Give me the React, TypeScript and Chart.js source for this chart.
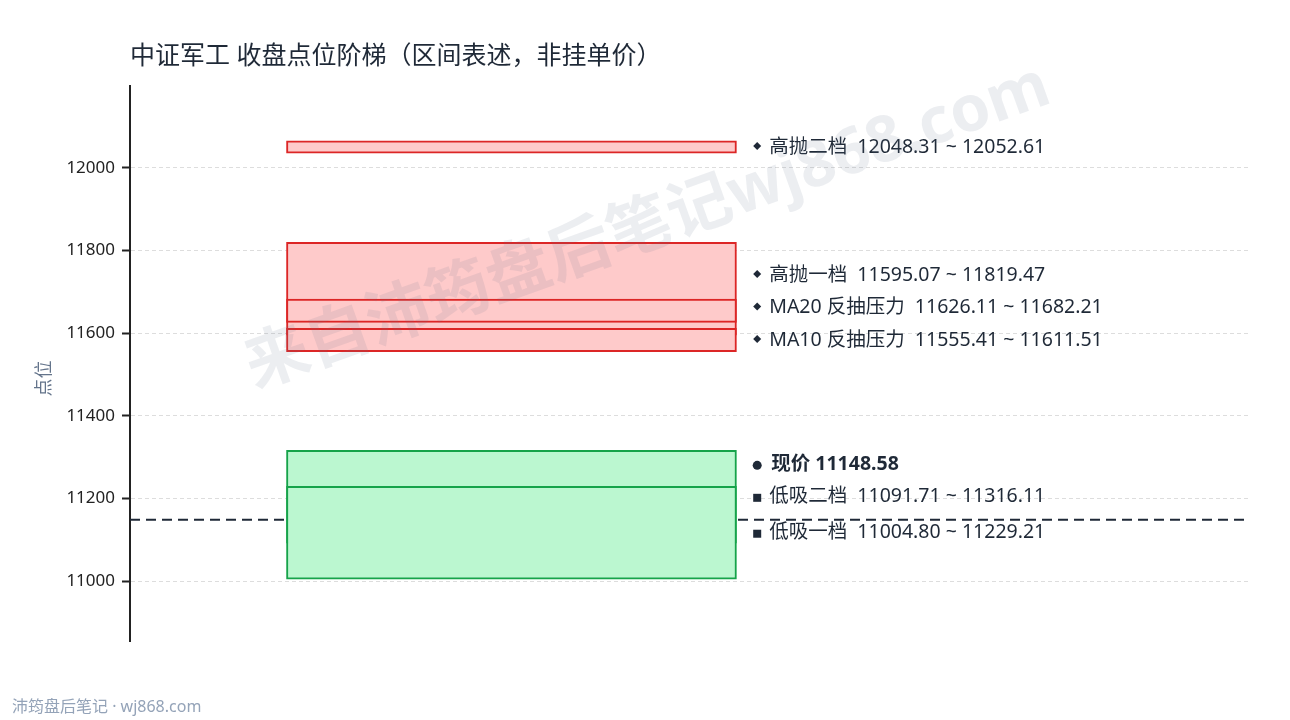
import { useEffect, useRef } from "react";
import { Chart, registerables } from "chart.js";

Chart.register(...registerables);

// 区间（收盘点位）
const bandNames = ["高抛二档", "高抛一档", "MA20 反抽压力", "MA10 反抽压力", "低吸二档", "低吸一档"];
const bandLow = [12048.31, 11595.07, 11626.11, 11555.41, 11091.71, 11004.8];
const bandHigh = [12052.61, 11819.47, 11682.21, 11611.51, 11316.11, 11229.21];
const bandKind = ["sell", "sell", "sell", "sell", "buy", "buy"];
const currentPrice = 11148.58;
const yTicks = [11000, 11200, 11400, 11600, 11800, 12000];

const TITLE = "中证军工 收盘点位阶梯（区间表述，非挂单价）";
const FOOTER = "沛筠盘后笔记 · wj868.com";
const WATERMARK = "来自沛筠盘后笔记wj868.com";
const FONT = '"Noto Sans", "Noto Sans CJK SC", sans-serif';

const MIN_SPAN = 30; // 太窄的区间放大显示
const BOX_CENTER = 0.3406;
const LABEL_X = 0.56;
const LABEL_GAP = 32.5;

const fillOf = (k: string) => (k === "sell" ? "#fecaca" : "#bbf7d0");
const edgeOf = (k: string) => (k === "sell" ? "#dc2626" : "#16a34a");

const fmt = (v: number) => v.toFixed(2);

const overlayPlugin = {
  id: "overlay",
  afterDatasetsDraw(chart: any) {
    const { ctx, chartArea, scales } = chart;
    const x = scales.x;
    const y = scales.y;
    ctx.save();

    // 右侧标签，自下而上错开
    const items = bandNames.map((name, i) => ({
      kind: bandKind[i],
      text: `${name}  ${fmt(bandLow[i])} ~ ${fmt(bandHigh[i])}`,
      y: y.getPixelForValue((bandLow[i] + bandHigh[i]) / 2),
    }));
    const sorted = [...items].sort((a, b) => b.y - a.y);
    for (let i = 1; i < sorted.length; i++) {
      sorted[i].y = Math.min(sorted[i].y, sorted[i - 1].y - LABEL_GAP);
    }
    let curY = y.getPixelForValue(currentPrice);
    for (const it of sorted) {
      if (Math.abs(curY - it.y) < LABEL_GAP) curY = it.y - LABEL_GAP;
    }

    const lx = x.getPixelForValue(LABEL_X);
    ctx.textBaseline = "middle";
    ctx.textAlign = "left";
    ctx.fillStyle = "#1f2937";
    ctx.font = `19.5px ${FONT}`;
    for (const it of items) {
      if (it.kind === "sell") {
        ctx.beginPath();
        ctx.moveTo(lx, it.y - 5);
        ctx.lineTo(lx + 4, it.y - 1);
        ctx.lineTo(lx, it.y + 3);
        ctx.lineTo(lx - 4, it.y - 1);
        ctx.closePath();
        ctx.fill();
      } else {
        ctx.fillRect(lx - 4, it.y - 3, 8, 8);
      }
      ctx.fillText(it.text, lx + 12, it.y);
    }
    ctx.beginPath();
    ctx.arc(lx, curY + 1, 4.5, 0, Math.PI * 2);
    ctx.fill();
    ctx.font = `bold 19.5px ${FONT}`;
    ctx.fillText(`现价 ${fmt(currentPrice)}`, lx + 14, curY);

    // 水印
    ctx.save();
    ctx.translate(648, 228);
    ctx.rotate((-19.7 * Math.PI) / 180);
    ctx.textAlign = "center";
    ctx.font = `bold 64px ${FONT}`;
    ctx.fillStyle = "rgba(100, 116, 139, 0.12)";
    ctx.fillText(WATERMARK, 0, 0);
    ctx.restore();

    // 标题、轴标题、页脚
    ctx.textAlign = "left";
    ctx.fillStyle = "#1f2937";
    ctx.font = `25px ${FONT}`;
    ctx.fillText(TITLE, chartArea.left, 57);

    ctx.save();
    ctx.translate(45, (chartArea.top + chartArea.bottom) / 2 + 15);
    ctx.rotate(-Math.PI / 2);
    ctx.textAlign = "center";
    ctx.fillStyle = "#64748b";
    ctx.font = `18px ${FONT}`;
    ctx.fillText("点位", 0, 0);
    ctx.restore();

    ctx.fillStyle = "#94a3b8";
    ctx.font = `16px ${FONT}`;
    ctx.fillText(FOOTER, 12, 707);
    ctx.restore();
  },
};

export default function App() {
  const ref = useRef<HTMLCanvasElement>(null);

  useEffect(() => {
    document.body.style.margin = "0";
    if (!ref.current) return;
    const shown = bandLow.map((lo, i) => {
      const hi = bandHigh[i];
      const mid = (lo + hi) / 2;
      const half = Math.max((hi - lo) / 2, MIN_SPAN / 2);
      return [mid - half, mid + half];
    });
    const chart = new Chart(ref.current, {
      type: "bar",
      data: {
        datasets: [
          {
            type: "bar",
            data: shown.map((r) => ({ x: BOX_CENTER, y: r })) as any,
            backgroundColor: bandKind.map(fillOf),
            borderColor: bandKind.map(edgeOf),
            borderWidth: 2,
            borderSkipped: false,
            barThickness: 450,
          },
          {
            type: "line",
            data: [
              { x: 0, y: currentPrice },
              { x: 1, y: currentPrice },
            ],
            borderColor: "#1f2937",
            borderWidth: 2,
            borderDash: [10, 6],
            pointRadius: 0,
          },
        ],
      },
      options: {
        responsive: false,
        animation: false,
        layout: { padding: { top: 86, bottom: 79, right: 40, left: 0 } },
        plugins: { legend: { display: false }, tooltip: { enabled: false } },
        scales: {
          x: { type: "linear", min: 0, max: 1, display: false, offset: false, grid: { offset: false } },
          y: {
            min: 10855,
            max: 12198,
            afterFit: (s: any) => {
              s.width = 130;
            },
            afterBuildTicks: (s: any) => {
              s.ticks = yTicks.map((v) => ({ value: v }));
            },
            ticks: {
              color: "#222",
              font: { size: 17, family: FONT },
              padding: 7,
              callback: (v: any) => String(v),
            },
            grid: {
              color: "#dddddd",
              tickColor: "#222",
              tickLength: 8,
              tickWidth: 2,
            },
            border: { display: true, color: "#222", width: 2, dash: [4, 3] },
          },
        },
      },
      plugins: [overlayPlugin],
    });
    return () => chart.destroy();
  }, []);

  return <canvas ref={ref} width={1290} height={720} style={{ display: "block" }} />;
}
